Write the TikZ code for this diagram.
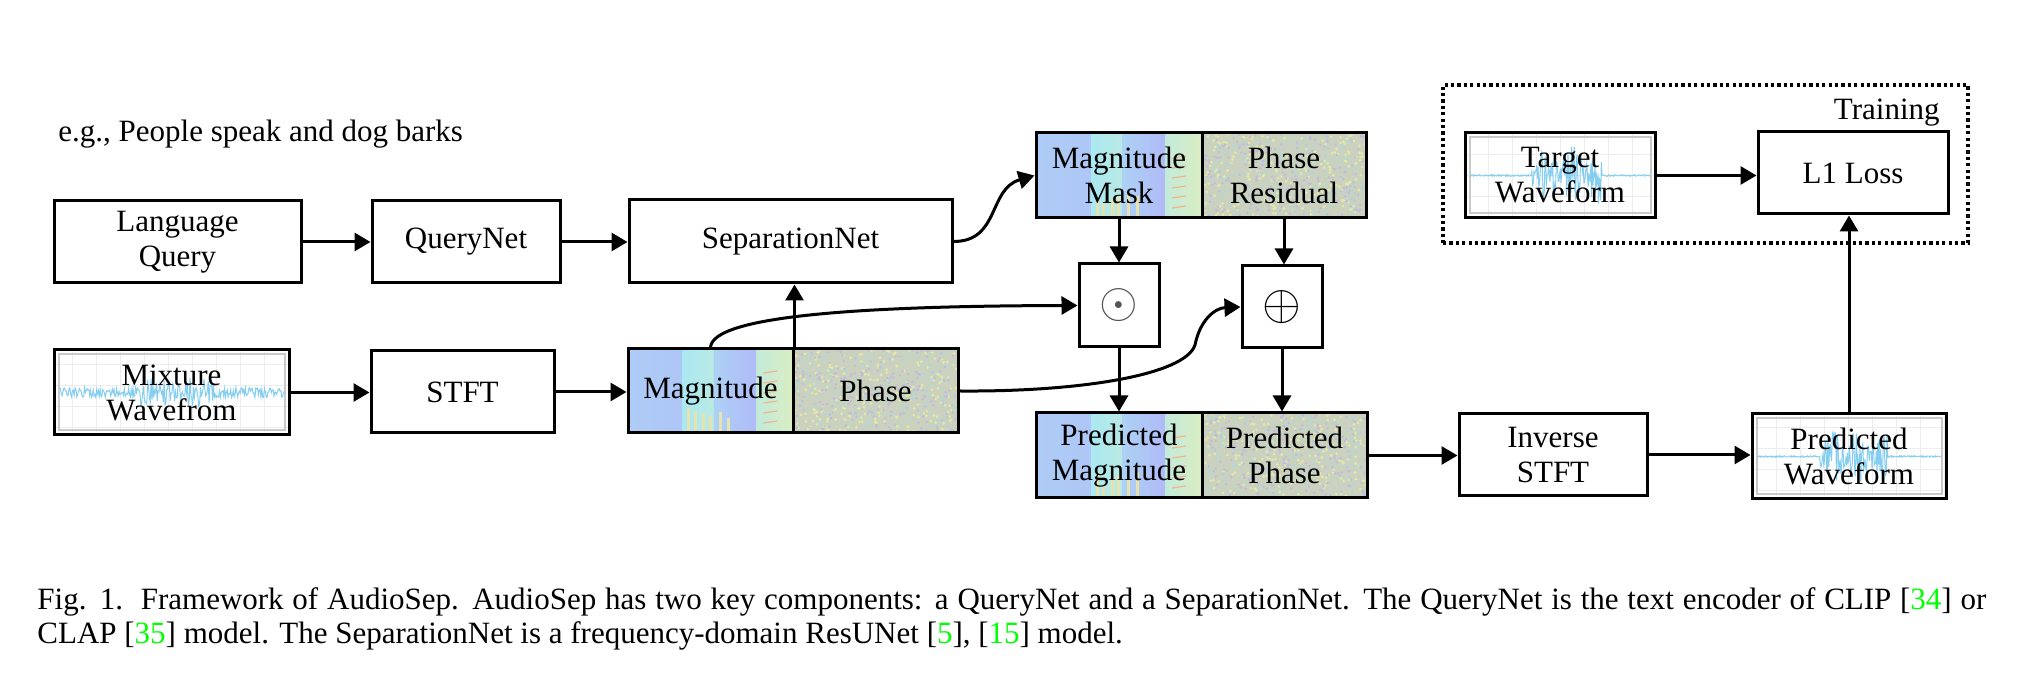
\documentclass[tikz,border=0pt]{standalone}
\usepackage{fontspec}
\setmainfont{Liberation Serif}
\usepackage{tikz}
\usetikzlibrary{arrows.meta, positioning, calc, fit, backgrounds}
\definecolor{speclav}{HTML}{B0BAF8}
\definecolor{speccyan}{HTML}{AAE8F2}
\definecolor{specyel}{HTML}{E6EEB6}
\definecolor{specorange}{HTML}{F2B48C}
\definecolor{phasebase}{HTML}{CAD2BF}
\definecolor{phaseyel}{HTML}{E6E8A6}
\definecolor{phaselav}{HTML}{C2BADE}
\definecolor{phasecyan}{HTML}{AADADE}
\definecolor{wavecol}{HTML}{86CEF0}
\definecolor{wavegrid}{HTML}{EDEDED}
\definecolor{waveframe}{HTML}{C9C9C9}
\definecolor{opgray}{HTML}{555555}
\definecolor{citegreen}{HTML}{00FF00}
\newcommand\specband[3]{\fill[#3]
    ($(path picture bounding box.south west)!#1!(path picture bounding box.south east)$) rectangle
    ($(path picture bounding box.north west)!#2!(path picture bounding box.north east)$);}
\newcommand\waveform[3]{%
    \begin{scope}[on background layer]
        \draw[wavegrid, line width=0.4pt, xstep=12pt, ystep=10.5pt] (#1.south west) grid (#1.north east);
        \draw[waveframe, line width=1pt] ([shift={(3pt,3pt)}]#1.south west)
            rectangle ([shift={(-3pt,-3pt)}]#1.north east);
        \draw[wavecol, line width=0.5pt, shift={(#1.center)}] plot[domain=-1:1, samples=260]
            ({\x*#2pt}, {(#3)*(2*rnd-1)*1pt});
    \end{scope}}
\newcommand\capfont{\fontsize{15.5}{17.5}\selectfont}
\pgfmathsetseed{11}

\begin{document}
\begin{tikzpicture}[x=0.5pt, y=0.5pt,
    box/.style={rectangle, draw=black, line width=1.5pt, minimum height=41pt,
                align=center, inner sep=0pt, font=\capfont},
    magbox/.style={box, path picture={
        \specband{0}{0.33}{left color=speclav!60!speccyan, right color=speclav}
        \specband{0.33}{0.52}{left color=speccyan, right color=speccyan!75!specyel}
        \specband{0.52}{0.78}{left color=speclav!50!speccyan, right color=speclav}
        \specband{0.78}{1}{left color=speccyan!60!specyel, right color=specyel!80!speccyan}
        \foreach \s in {0.36,0.40,0.45,0.49,0.55,0.60}
            \fill[specyel!80!specorange] ($(path picture bounding box.south west)!\s!(path picture bounding box.south east)$)
                rectangle ++(1.5pt,{6pt+rnd*7pt});
        \foreach \k in {1,...,6}
            \draw[specorange, line width=0.6pt] ($(path picture bounding box.south west)!0.82!(path picture bounding box.south east)+(0,\k*5pt)$)
                -- ++(7pt,1pt);
    }},
    phasebox/.style={box, fill=phasebase, path picture={
        \foreach \i in {1,...,240} {
            \fill[phaseyel] ($(path picture bounding box.south west)+(rnd*84pt, rnd*44pt)$) circle (0.75pt);
            \fill[phaselav] ($(path picture bounding box.south west)+(rnd*84pt, rnd*44pt)$) circle (0.7pt);
            \fill[phasecyan] ($(path picture bounding box.south west)+(rnd*84pt, rnd*44pt)$) circle (0.6pt);
        }
    }},
    link/.style={-{Triangle[length=8pt, width=9pt]}, line width=1.5pt},
    trainframe/.style={draw, line width=1.6pt, dash pattern=on 1.6pt off 1.6pt, inner sep=0pt}
]
    \useasboundingbox (0,0) rectangle (2031,679);

    \node[anchor=base west, inner sep=0pt, font=\capfont] (example) at (58,537) {e.g., People speak and dog barks};

    \node[box, minimum width=123.5pt] (query) at (177.5,437) {Language\\Query};
    \node[box, minimum width=94pt] (querynet) at (466,437) {QueryNet};
    \node[box, minimum width=161.5pt, minimum height=41.5pt] (sepnet) at (790.5,437.5) {SeparationNet};

    \node[box, minimum width=117.5pt, minimum height=42.5pt] (mixture) at (171.5,286.5) {Mixture\\Wavefrom};
    \node[box, minimum width=91.5pt] (stft) at (462.5,287) {STFT};
    \node[magbox, minimum width=82.5pt, minimum height=42pt] (mag) at (710.5,288) {Magnitude};
    \node[phasebox, minimum width=82.5pt, minimum height=42pt, right=-1.5pt of mag] (phase) {Phase};

    \node[magbox, minimum width=83pt, minimum height=42.5pt] (mask) at (1119,503.5) {Magnitude\\Mask};
    \node[phasebox, minimum width=82pt, minimum height=42.5pt, right=-1.5pt of mask] (residual) {Phase\\Residual};

    \node[box, minimum width=40pt, minimum height=41.5pt, font=\fontsize{35}{35}\selectfont] (odot) at (1119,373.5) {\textcolor{opgray}{$\odot$}};
    \node[box, minimum width=40pt, minimum height=41pt, font=\fontsize{35}{35}\selectfont] (oplus) at (1282,372) {$\oplus$};

    \node[magbox, minimum width=83pt, minimum height=42.5pt] (predmag) at (1119,223.5) {Predicted\\Magnitude};
    \node[phasebox, minimum width=82.5pt, minimum height=42.5pt, right=-1.5pt of predmag] (predphase) {Predicted\\Phase};

    \node[box, minimum width=94pt] (istft) at (1553,224) {Inverse\\STFT};
    \node[box, minimum width=97pt, minimum height=42.5pt] (predwave) at (1849,222.5) {Predicted\\Waveform};

    \node[box, minimum width=95pt, minimum height=42.5pt] (target) at (1560,503.5) {Target\\Waveform};
    \node[box, minimum width=95pt] (loss) at (1853,506) {L1 Loss};

    \waveform{mixture}{56}{2.5+(abs(\x-0.05)<0.33)*(2.5+3*abs(sin(\x*500)))}
    \waveform{predwave}{46}{0.4+(abs(\x-0.05)<0.37)*(3+11*abs(sin(\x*700+20)))}
    \waveform{target}{45}{0.4+(abs(\x-0.07)<0.39)*(3+12*abs(sin(\x*650)))}

    \coordinate (trainsw) at (1443,436);
    \coordinate (trainne) at (1968,594);
    \node[trainframe, fit=(trainsw)(trainne)] (training) {};
    \node[anchor=base east, inner sep=0pt, font=\capfont] (traininglabel) at (1940,559) {Training};

    \draw[link] (query.east) -- (query.east -| querynet.west);
    \draw[link] (querynet.east) -- (querynet.east -| sepnet.west);
    \draw[link] (mixture.east) -- (mixture.east -| stft.west);
    \draw[link] (stft.east) -- (stft.east -| mag.west);
    \draw[link] (mag.north east) -- (mag.north east |- sepnet.south);
    \draw[link] (sepnet.east) .. controls (1000,437.5) and (988,490) .. (mask.west);
    \draw[link] (mag.north) .. controls (712,362) and (850,373) .. (odot.west);
    \draw[link] (phase.east) .. controls (1080,287) and (1185,304) .. (1195,334)
        .. controls (1200,359) and (1215,371) .. (oplus.west);
    \draw[link] (mask.south) -- (odot.north);
    \draw[link] (residual.south) -- (residual.south |- oplus.north);
    \draw[link] (odot.south) -- (predmag.north);
    \draw[link] (oplus.south) -- (oplus.south |- predphase.north);
    \draw[link] (predphase.east) -- (predphase.east -| istft.west);
    \draw[link] (istft.east) -- (istft.east -| predwave.west);
    \draw[link] (predwave.north) -- (predwave.north |- loss.south);
    \draw[link] (target.east) -- (target.east -| loss.west);

    \node[anchor=base west, inner sep=0pt, font=\capfont] (caption) at (37,69) {\makebox[974.5pt][s]{Fig. 1.\ \ Framework of AudioSep. AudioSep has two key components: a QueryNet and a SeparationNet. The QueryNet is the text encoder of CLIP [\textcolor{citegreen}{34}] or}};
    \node[anchor=base west, inner sep=0pt, font=\capfont] (captionend) at (37,35) {CLAP [\textcolor{citegreen}{35}] model. The SeparationNet is a frequency-domain ResUNet [\textcolor{citegreen}{5}], [\textcolor{citegreen}{15}] model.};
\end{tikzpicture}
\end{document}
